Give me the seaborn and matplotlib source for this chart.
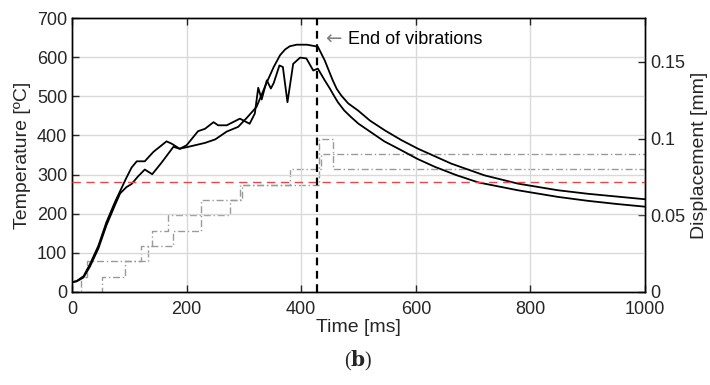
import numpy as np
import pandas as pd
import matplotlib
matplotlib.use("Agg")
import matplotlib.pyplot as plt
import seaborn as sns

# ---- data ----
# temperature curve reaching ~630 C (smooth)
tM = [0, 8, 20, 31, 46, 60, 75, 84, 95, 104, 115, 127, 140, 156, 177, 188, 203, 232, 250, 270,
      290, 305, 322, 340, 352, 363, 372, 380, 392, 410, 429, 441, 455, 462, 470, 482, 499, 520,
      546, 575, 604, 662, 720, 778, 848, 900, 950, 1000]
TM = [25, 27, 37, 64, 111, 170, 222, 252, 268, 276, 295, 313, 301, 330, 371, 366, 371, 381, 390, 410,
      422, 445, 473, 536, 575, 605, 620, 628, 632, 632, 627, 592, 541, 519, 502, 482, 464, 438,
      413, 388, 366, 328, 298, 277, 260, 251, 244, 237]
# temperature curve reaching ~600 C (spiky)
tS = [0, 8, 20, 31, 46, 60, 75, 84, 95, 104, 113, 127, 142, 165, 174, 188, 200, 220, 232, 247,
      255, 270, 293, 310, 319, 325, 331, 340, 347, 352, 362, 368, 376, 386, 398, 409, 421, 429,
      441, 450, 457, 464, 475, 487, 500, 517, 545, 575, 603, 633, 670, 709, 778, 848, 900, 950, 1000]
TS = [25, 28, 40, 70, 118, 178, 230, 258, 292, 318, 334, 334, 358, 385, 379, 366, 375, 411, 417, 434,
      426, 426, 443, 430, 456, 522, 492, 541, 520, 534, 579, 575, 485, 583, 599, 597, 566, 571,
      541, 520, 502, 485, 464, 447, 430, 413, 385, 362, 340, 320, 299, 280, 260, 243, 233, 225, 218]

# displacement (mm), two measurements (step signals)
tDA = [0, 16, 27, 120, 140, 167, 275, 297, 381, 435, 1000]
DA = [0, 0.01, 0.02, 0.03, 0.04, 0.05, 0.06, 0.07, 0.08, 0.09, 0.09]
tDB = [0, 52, 92, 132, 177, 225, 293, 431, 456, 1000]
DB = [0, 0.01, 0.02, 0.03, 0.04, 0.06, 0.07, 0.10, 0.08, 0.08]

T_ref = 280          # red dashed reference temperature
t_end = 428          # end of vibrations

x_ticks = [0, 200, 400, 600, 800, 1000]
y_ticks = [0, 100, 200, 300, 400, 500, 600, 700]
d_ticks = [0, 0.05, 0.1, 0.15]
d_labels = ["0", "0.05", "0.1", "0.15"]

# ---- style ----
sns.set_style("ticks")
plt.rcParams["font.family"] = ["Liberation Sans", "DejaVu Sans"]
FS_T = 13     # tick labels
FS_L = 14     # axis labels

fig = plt.figure(figsize=(7.1, 3.85), dpi=100)
ax = fig.add_axes([0.1014, 0.2416, 0.8071, 0.7114])
ax2 = ax.twinx()

grid_c = "#d9d9d9"
for xv in x_ticks[1:-1]:
    ax.axvline(xv, color=grid_c, lw=1, zorder=0)
for yv in y_ticks[1:-1]:
    ax.axhline(yv, color=grid_c, lw=1, zorder=0)

# displacement steps on the right axis
step_c = "#9a9a9a"
sns.lineplot(x=tDA, y=DA, ax=ax2, color=step_c, lw=1.0, dashes=False, linestyle=(0, (5, 2, 1, 2)),
             drawstyle="steps-post", estimator=None, sort=False)
sns.lineplot(x=tDB, y=DB, ax=ax2, color=step_c, lw=1.0, dashes=False, linestyle=(0, (5, 2, 1, 2)),
             drawstyle="steps-post", estimator=None, sort=False)

ax.set_zorder(ax2.get_zorder() + 1)
ax.patch.set_visible(False)

# temperature curves
sns.lineplot(x=tM, y=TM, ax=ax, color="black", lw=1.3, estimator=None, sort=False)
sns.lineplot(x=tS, y=TS, ax=ax, color="black", lw=1.3, estimator=None, sort=False)

ax.axhline(T_ref, color="#e8474a", lw=1.0, dashes=(6, 4), zorder=3)
ax.axvline(t_end, color="black", lw=1.6, dashes=(3.5, 2.5), zorder=4)

ax.text(441, 645, "\u2190", color="#7f7f7f", fontsize=14, va="center", ha="left",
        family=["DejaVu Sans"])
ax.text(482, 645, "End of vibrations", color="black", fontsize=13, va="center", ha="left")

ax.set_xlim(0, 1000)
ax.set_ylim(0, 700)
ax2.set_ylim(0, 0.1786)
ax.set_xticks(x_ticks)
ax.set_yticks(y_ticks)
ax2.set_yticks(d_ticks)
ax2.set_yticklabels(d_labels)

ax.tick_params(axis="both", direction="in", length=5, width=1, top=True, right=False,
               labelsize=FS_T)
ax.tick_params(axis="x", pad=6.5)
ax.tick_params(axis="y", pad=3.5)
ax2.tick_params(direction="in", length=5, width=1, labelsize=FS_T, pad=4)
for a in (ax, ax2):
    for s in a.spines.values():
        s.set_color("black")
        s.set_linewidth(1.0)

ax.set_xlabel("Time [ms]", fontsize=FS_L, labelpad=1)
ax.set_ylabel("Temperature [ºC]", fontsize=FS_L, labelpad=4)
ax2.set_ylabel("Displacement [mm]", fontsize=FS_L, labelpad=4)

fig.text(0.504, 0.062, r"($\mathbf{b}$)", ha="center", va="center", fontsize=14.5,
         family=["Liberation Serif", "DejaVu Serif"], math_fontfamily="dejavuserif")

fig.savefig("out.png", dpi=100)
